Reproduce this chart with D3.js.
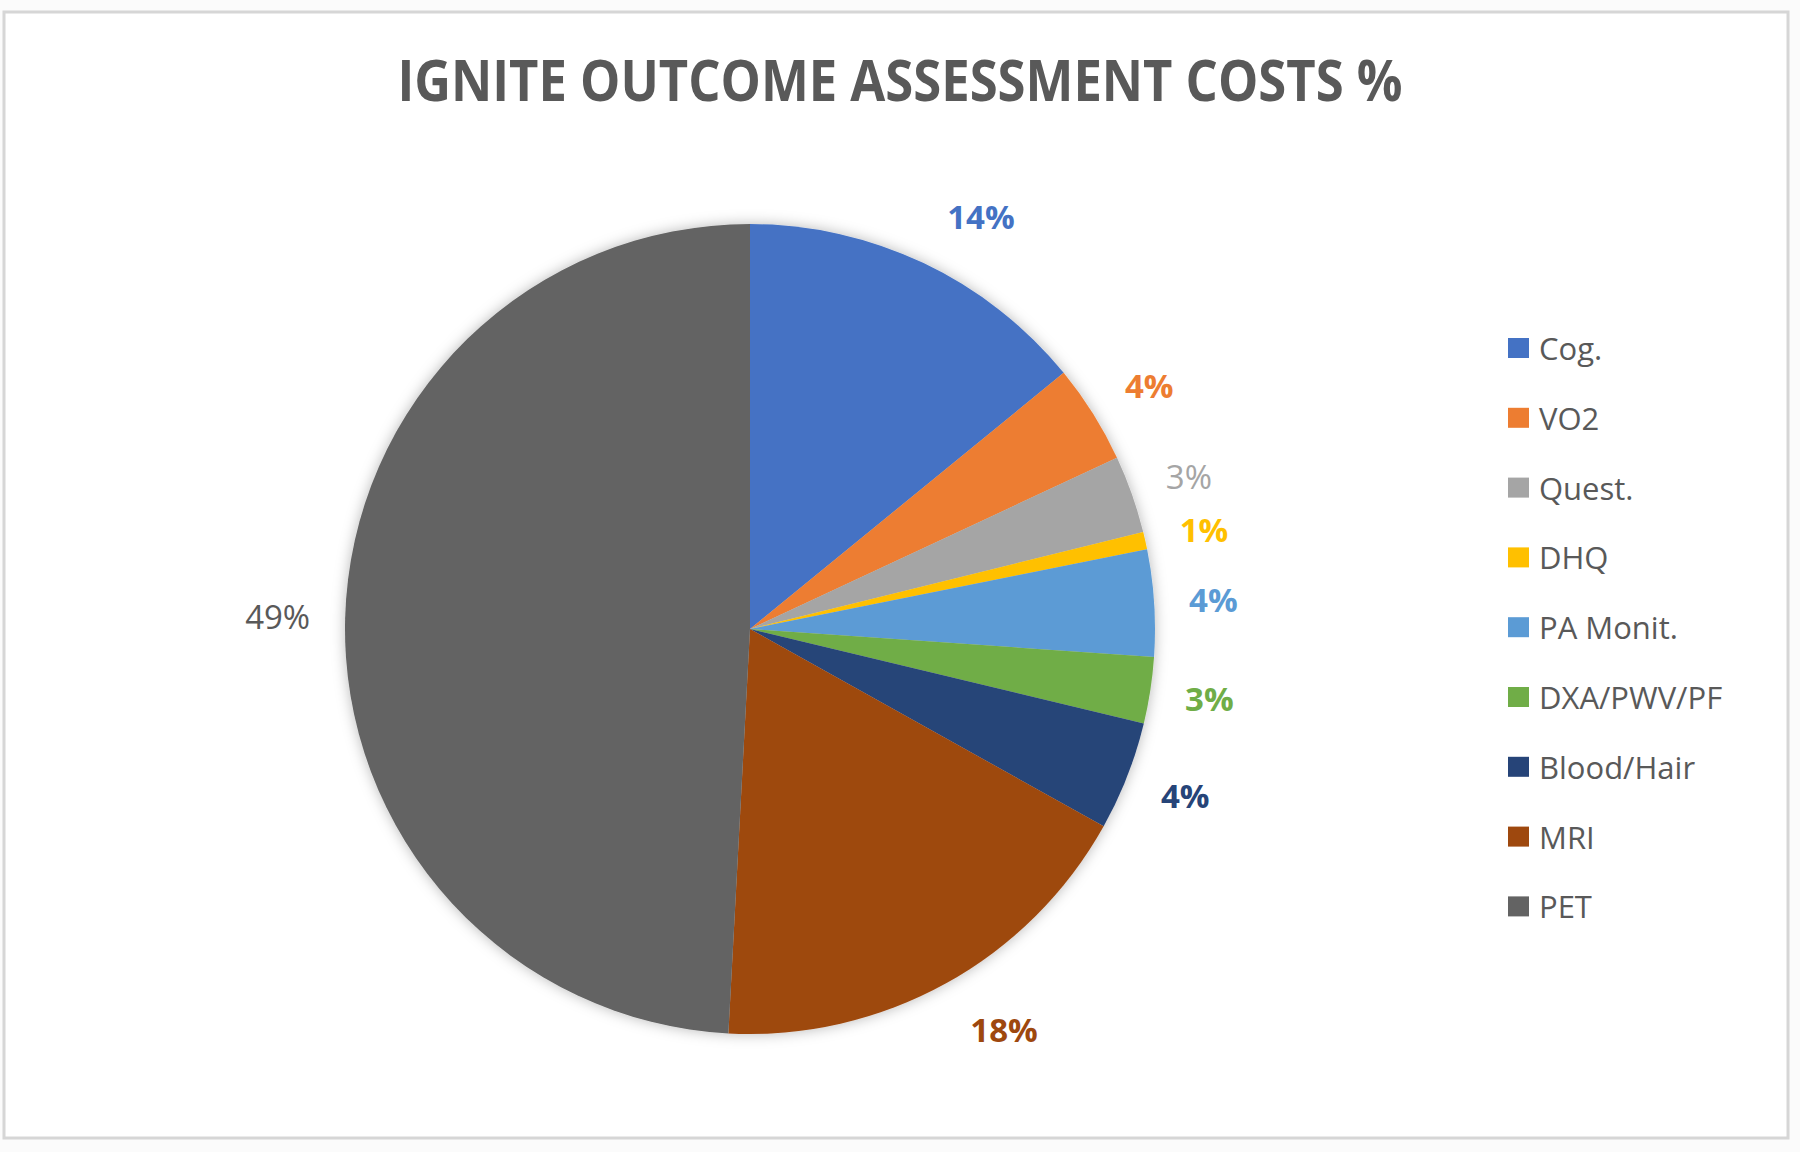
<!DOCTYPE html>
<html>
<head>
<meta charset="utf-8">
<script src="https://cdn.jsdelivr.net/npm/d3@7"></script>
<style>
  body { margin: 0; background: #fbfbfb; }
  svg { display: block; }
</style>
</head>
<body>
<script>
// data (share of total cost, %)
var categories = ["Cog.", "VO2", "Quest.", "DHQ", "PA Monit.", "DXA/PWV/PF", "Blood/Hair", "MRI", "PET"];
var costShare = [14.1, 3.95, 3.1, 0.7, 4.25, 2.65, 4.35, 17.75, 49.15];
var percentLabels = ["14%", "4%", "3%", "1%", "4%", "3%", "4%", "18%", "49%"];
var chartTitle = "IGNITE OUTCOME ASSESSMENT COSTS %";

var colors = ["#4472C4", "#ED7D31", "#A5A5A5", "#FFC000", "#5B9BD5", "#70AD47", "#264478", "#9E480E", "#636363"];
var lightLabels = ["Quest.", "PET"];

var width = 1800, height = 1152;
var cx = 750, cy = 629, radius = 405;

var svg = d3.select("body").append("svg")
    .attr("width", width)
    .attr("height", height);

//soft shadow around the pie
var defs = svg.append("defs");
var shadow = defs.append("filter")
    .attr("id", "pieShadow")
    .attr("x", "-20%").attr("y", "-20%")
    .attr("width", "140%").attr("height", "140%");
shadow.append("feDropShadow")
    .attr("dx", 0).attr("dy", 0)
    .attr("stdDeviation", 7)
    .attr("flood-color", "#000")
    .attr("flood-opacity", 0.28);

//chart area frame
svg.append("rect")
    .attr("x", 4).attr("y", 12)
    .attr("width", 1784).attr("height", 1126)
    .attr("fill", "#ffffff")
    .attr("stroke", "#d6d6d6")
    .attr("stroke-width", 3);

//title
svg.append("text")
    .attr("x", 900)
    .attr("y", 101)
    .attr("text-anchor", "middle")
    .attr("textLength", 1005)
    .attr("lengthAdjust", "spacingAndGlyphs")
    .style("font-family", "'Open Sans', sans-serif")
    .style("font-weight", 700)
    .style("font-size", "57px")
    .style("fill", "#595959")
    .text(chartTitle);

var color = d3.scaleOrdinal()
    .domain(categories)
    .range(colors);

var rows = categories.map(function(c, i){
    return { name: c, value: costShare[i], label: percentLabels[i] };
});

var pie = d3.pie()
    .sort(null)
    .value(function(d){ return d.value; });

var arc = d3.arc()
    .innerRadius(0)
    .outerRadius(radius);

var arcs = pie(rows);

var pieG = svg.append("g")
    .attr("transform", "translate(" + cx + "," + cy + ")");

pieG.append("g")
    .attr("filter", "url(#pieShadow)")
    .selectAll(".slice")
    .data(arcs)
    .enter()
    .append("path")
    .attr("class", "slice")
    .attr("d", arc)
    .style("fill", function(d){ return color(d.data.name); });

//outside-end data labels
var labels = pieG.selectAll(".pieLabel")
    .data(arcs)
    .enter()
    .append("text")
    .attr("class", "pieLabel")
    .attr("text-anchor", "middle")
    .attr("dominant-baseline", "central")
    .style("font-family", "'Open Sans', sans-serif")
    .style("font-size", "33px")
    .style("font-weight", function(d){
        return lightLabels.indexOf(d.data.name) >= 0 ? 400 : 700;
    })
    .style("fill", function(d){
        return d.data.name == "PET" ? "#595959" : color(d.data.name);
    })
    .text(function(d){ return d.data.label; });

labels.each(function(d){
    var w = this.getComputedTextLength();
    var mid = (d.startAngle + d.endAngle) / 2;
    var s = Math.sin(mid), c = Math.cos(mid);
    var ex = radius * s,
        ey = -radius * c;
    var side = s >= 0 ? 1 : -1;
    var gap = 35 - 20 * (1 - Math.abs(s));
    d3.select(this)
        .attr("x", ex + side * (gap + w / 2))
        .attr("y", ey - c * 52);
});

//legend
var legend = svg.append("g")
    .attr("transform", "translate(1508,348)");

var items = legend.selectAll(".legendItem")
    .data(categories)
    .enter()
    .append("g")
    .attr("class", "legendItem")
    .attr("transform", function(d, i){ return "translate(0," + (i * 69.8) + ")"; });

items.append("rect")
    .attr("x", 0)
    .attr("y", -10)
    .attr("width", 21)
    .attr("height", 20)
    .style("fill", function(d){ return color(d); });

items.append("text")
    .attr("x", 31)
    .attr("y", 0)
    .attr("dominant-baseline", "central")
    .style("font-family", "'Open Sans', sans-serif")
    .style("font-size", "31px")
    .style("fill", "#595959")
    .text(function(d){ return d; });
</script>
</body>
</html>
